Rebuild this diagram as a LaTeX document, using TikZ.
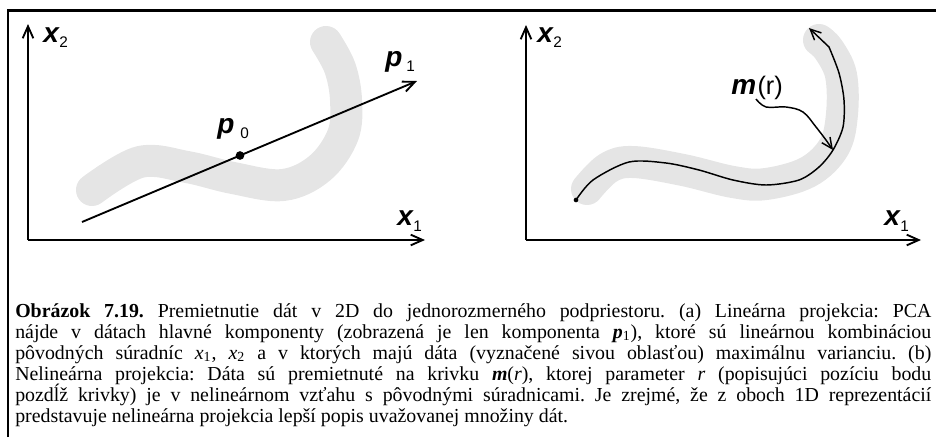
\documentclass[tikz,border=0pt]{standalone}
\usepackage{fontspec}
\setmainfont{Liberation Serif}
\newfontfamily\capserif{Liberation Serif}
\newfontfamily\lsans{Liberation Sans}
\usetikzlibrary{arrows.meta}
\newcommand{\capln}[1]{\scalebox{1.49}{\makebox[461.1pt][s]{#1}}}
\begin{document}
\begin{tikzpicture}[x=0.75pt,y=-0.75pt,
  frame/.style={line width=1.8pt},
  axisarrow/.style={line width=1.6pt,-{Straight Barb[length=9pt,width=8pt,line width=1.4pt]}},
  thinarrow/.style={line width=1.1pt,-{Straight Barb[length=8pt,width=7.5pt,line width=1.1pt]}},
  blob/.style={draw=gray!20,line width=24pt,line cap=round,line join=round},
  lab/.style={anchor=base west,inner sep=0pt,font={\lsans\bfseries\itshape\fontsize{21pt}{21pt}\selectfont}},
  sublab/.style={anchor=base west,inner sep=0pt,font={\lsans\fontsize{11.5pt}{11.5pt}\selectfont}},
  dotnode/.style={circle,fill=black,inner sep=0pt,minimum size=#1},
  capline/.style={anchor=base west,inner sep=0pt,font={\capserif\fontsize{10pt}{12pt}\selectfont\frenchspacing}}]
\useasboundingbox (0,0) rectangle (936,437);
% frame (only top and left edges visible)
\draw[frame] (8,437) -- (8,10.5) -- (936,10.5);

% ---------- left panel ----------
\draw[blob] plot[smooth,tension=0.6] coordinates {(92,190) (140,162) (187,167) (233,178) (283,185) (320,168) (343,135) (346,100) (340,68) (326,42)};
\coordinate (O1) at (28,240);
\coordinate (Y1) at (28,24);
\coordinate (X1) at (425,240);
\draw[axisarrow] (O1) -- (Y1);
\draw[axisarrow] (O1) -- (X1);
\coordinate (A0) at (82,222);
\coordinate (A1) at (417,81);
\draw[axisarrow,line width=1.4pt] (A0) -- (A1);
\node[dotnode=6.5pt] (p0dot) at (240,155.5) {};
\node[lab] (lx2) at (43,42) {x};
\node[sublab] (lx2s) at (59,47) {2};
\node[lab] (lp0) at (217,133) {p};
\node[sublab] (lp0s) at (240,138) {0};
\node[lab] (lp1) at (385,66) {p};
\node[sublab] (lp1s) at (406,71) {1};
\node[lab] (lx1) at (397,225) {x};
\node[sublab] (lx1s) at (413,231) {1};

% ---------- right panel ----------
\draw[blob] plot[smooth,tension=0.6] coordinates {(587,189) (608,168) (633,162) (683,170) (733,182) (766,184) (808,172) (834,147) (842,114) (841,75) (829,50) (819,40)};
\coordinate (O2) at (526,240);
\coordinate (Y2) at (526,25);
\coordinate (X2) at (921,240);
\draw[axisarrow] (O2) -- (Y2);
\draw[axisarrow] (O2) -- (X2);
\node[dotnode=3.5pt] (cstart) at (576,200) {};
\coordinate (cend) at (809,28);
\coordinate (mend) at (833,150);
\draw[thinarrow] plot[smooth,tension=0.5] coordinates {(576,200) (593,180) (629,162) (666,163) (699,170) (733,180) (766,185) (799,180) (819,167) (833,150) (843,127) (844,100) (839,73) (829,47)} -- (cend);
\coordinate (mstart) at (756,99);
\draw[thinarrow] plot[smooth,tension=0.6] coordinates {(756,99) (766,107) (786,107) (803,112) (816,127) (826,140)} -- (mend);
\node[lab] (mlabel) at (731,94) {m\kern1pt\normalfont\lsans\fontsize{19pt}{19pt}\selectfont(r)};
\node[lab] (rx2) at (537,42) {x};
\node[sublab] (rx2s) at (553,47) {2};
\node[lab] (rx1) at (884,225) {x};
\node[sublab] (rx1s) at (900,231) {1};

% ---------- caption (one node per printed line) ----------
\node[capline] (cap1) at (15,317) {\capln{\textbf{Obrázok 7.19.} Premietnutie dát v 2D do jednorozmerného podpriestoru. (a) Lineárna projekcia: PCA}};
\node[capline] (cap2) at (15,338) {\capln{nájde v dátach hlavné komponenty (zobrazená je len komponenta \textbf{\textit{p}}\textsubscript{1}), ktoré sú lineárnou kombináciou}};
\node[capline] (cap3) at (15,359) {\capln{pôvodných súradníc \textit{x}\textsubscript{1}, \textit{x}\textsubscript{2} a v ktorých majú dáta (vyznačené sivou oblasťou) maximálnu varianciu. (b)}};
\node[capline] (cap4) at (15,380) {\capln{Nelineárna projekcia: Dáta sú premietnuté na krivku \textbf{\textit{m}}(\textit{r}), ktorej parameter \textit{r} (popisujúci pozíciu bodu}};
\node[capline] (cap5) at (15,401) {\capln{pozdĺž krivky) je v nelineárnom vzťahu s pôvodnými súradnicami. Je zrejmé, že z oboch 1D reprezentácií}};
\node[capline] (cap6) at (15,422) {\scalebox{1.49}{predstavuje nelineárna projekcia lepší popis uvažovanej množiny dát.}};
\end{tikzpicture}
\end{document}
